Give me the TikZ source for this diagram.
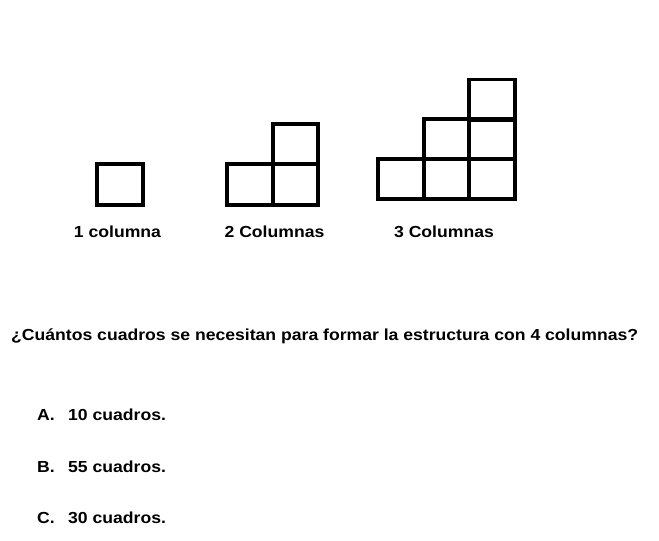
\documentclass[tikz,border=0pt]{standalone}
\usepackage{fontspec}
\setmainfont{Liberation Sans}[FakeStretch=1.1]
\usetikzlibrary{positioning}

\begin{document}
\begin{tikzpicture}[x=1pt, y=-1pt,
    cell/.style={rectangle, draw=black, line width=3.6pt, inner sep=0pt,
      minimum width=45.5pt, minimum height=40.5pt},
    caption/.style={font=\bfseries\fontsize{16}{19}\selectfont, inner sep=0pt, anchor=base},
    answer/.style={font=\bfseries\fontsize{16}{19}\selectfont, inner sep=0pt, anchor=base west}]

\useasboundingbox (0,0) rectangle (659,541);

% one column
\node [cell] (a1) at (120,184.5) {};

% two columns
\node [cell] (b1) at (250,184.5) {};
\node [cell] (b2) at (295.5,184.5) {};
\node [cell] (b3) at (295.5,144) {};

% three columns
\begin{scope}[every node/.append style={minimum height=39.7pt}]
\node [cell] (c1) at (401,179) {};
\node [cell] (c2) at (446.5,179) {};
\node [cell] (c3) at (492,179) {};
\node [cell] (c4) at (446.5,139.3) {};
\node [cell] (c5) at (492,139.3) {};
\node [cell] (c6) at (492,99.6) {};
\end{scope}

\node [caption] (cap1) at (117.5,237) {1 columna};
\node [caption] (cap2) at (274.5,237) {2 Columnas};
\node [caption] (cap3) at (444,237) {3 Columnas};

\node [answer] (quest) at (11,340.5) {¿Cuántos cuadros se necesitan para formar la estructura con 4 columnas?};

\node [answer] (optA) at (37,420.5) {A.};
\node [answer] (ansA) at (68,420.5) {10 cuadros.};
\node [answer] (optB) at (37,472) {B.};
\node [answer] (ansB) at (68,472) {55 cuadros.};
\node [answer] (optC) at (37,523) {C.};
\node [answer] (ansC) at (68,523) {30 cuadros.};

\end{tikzpicture}
\end{document}
